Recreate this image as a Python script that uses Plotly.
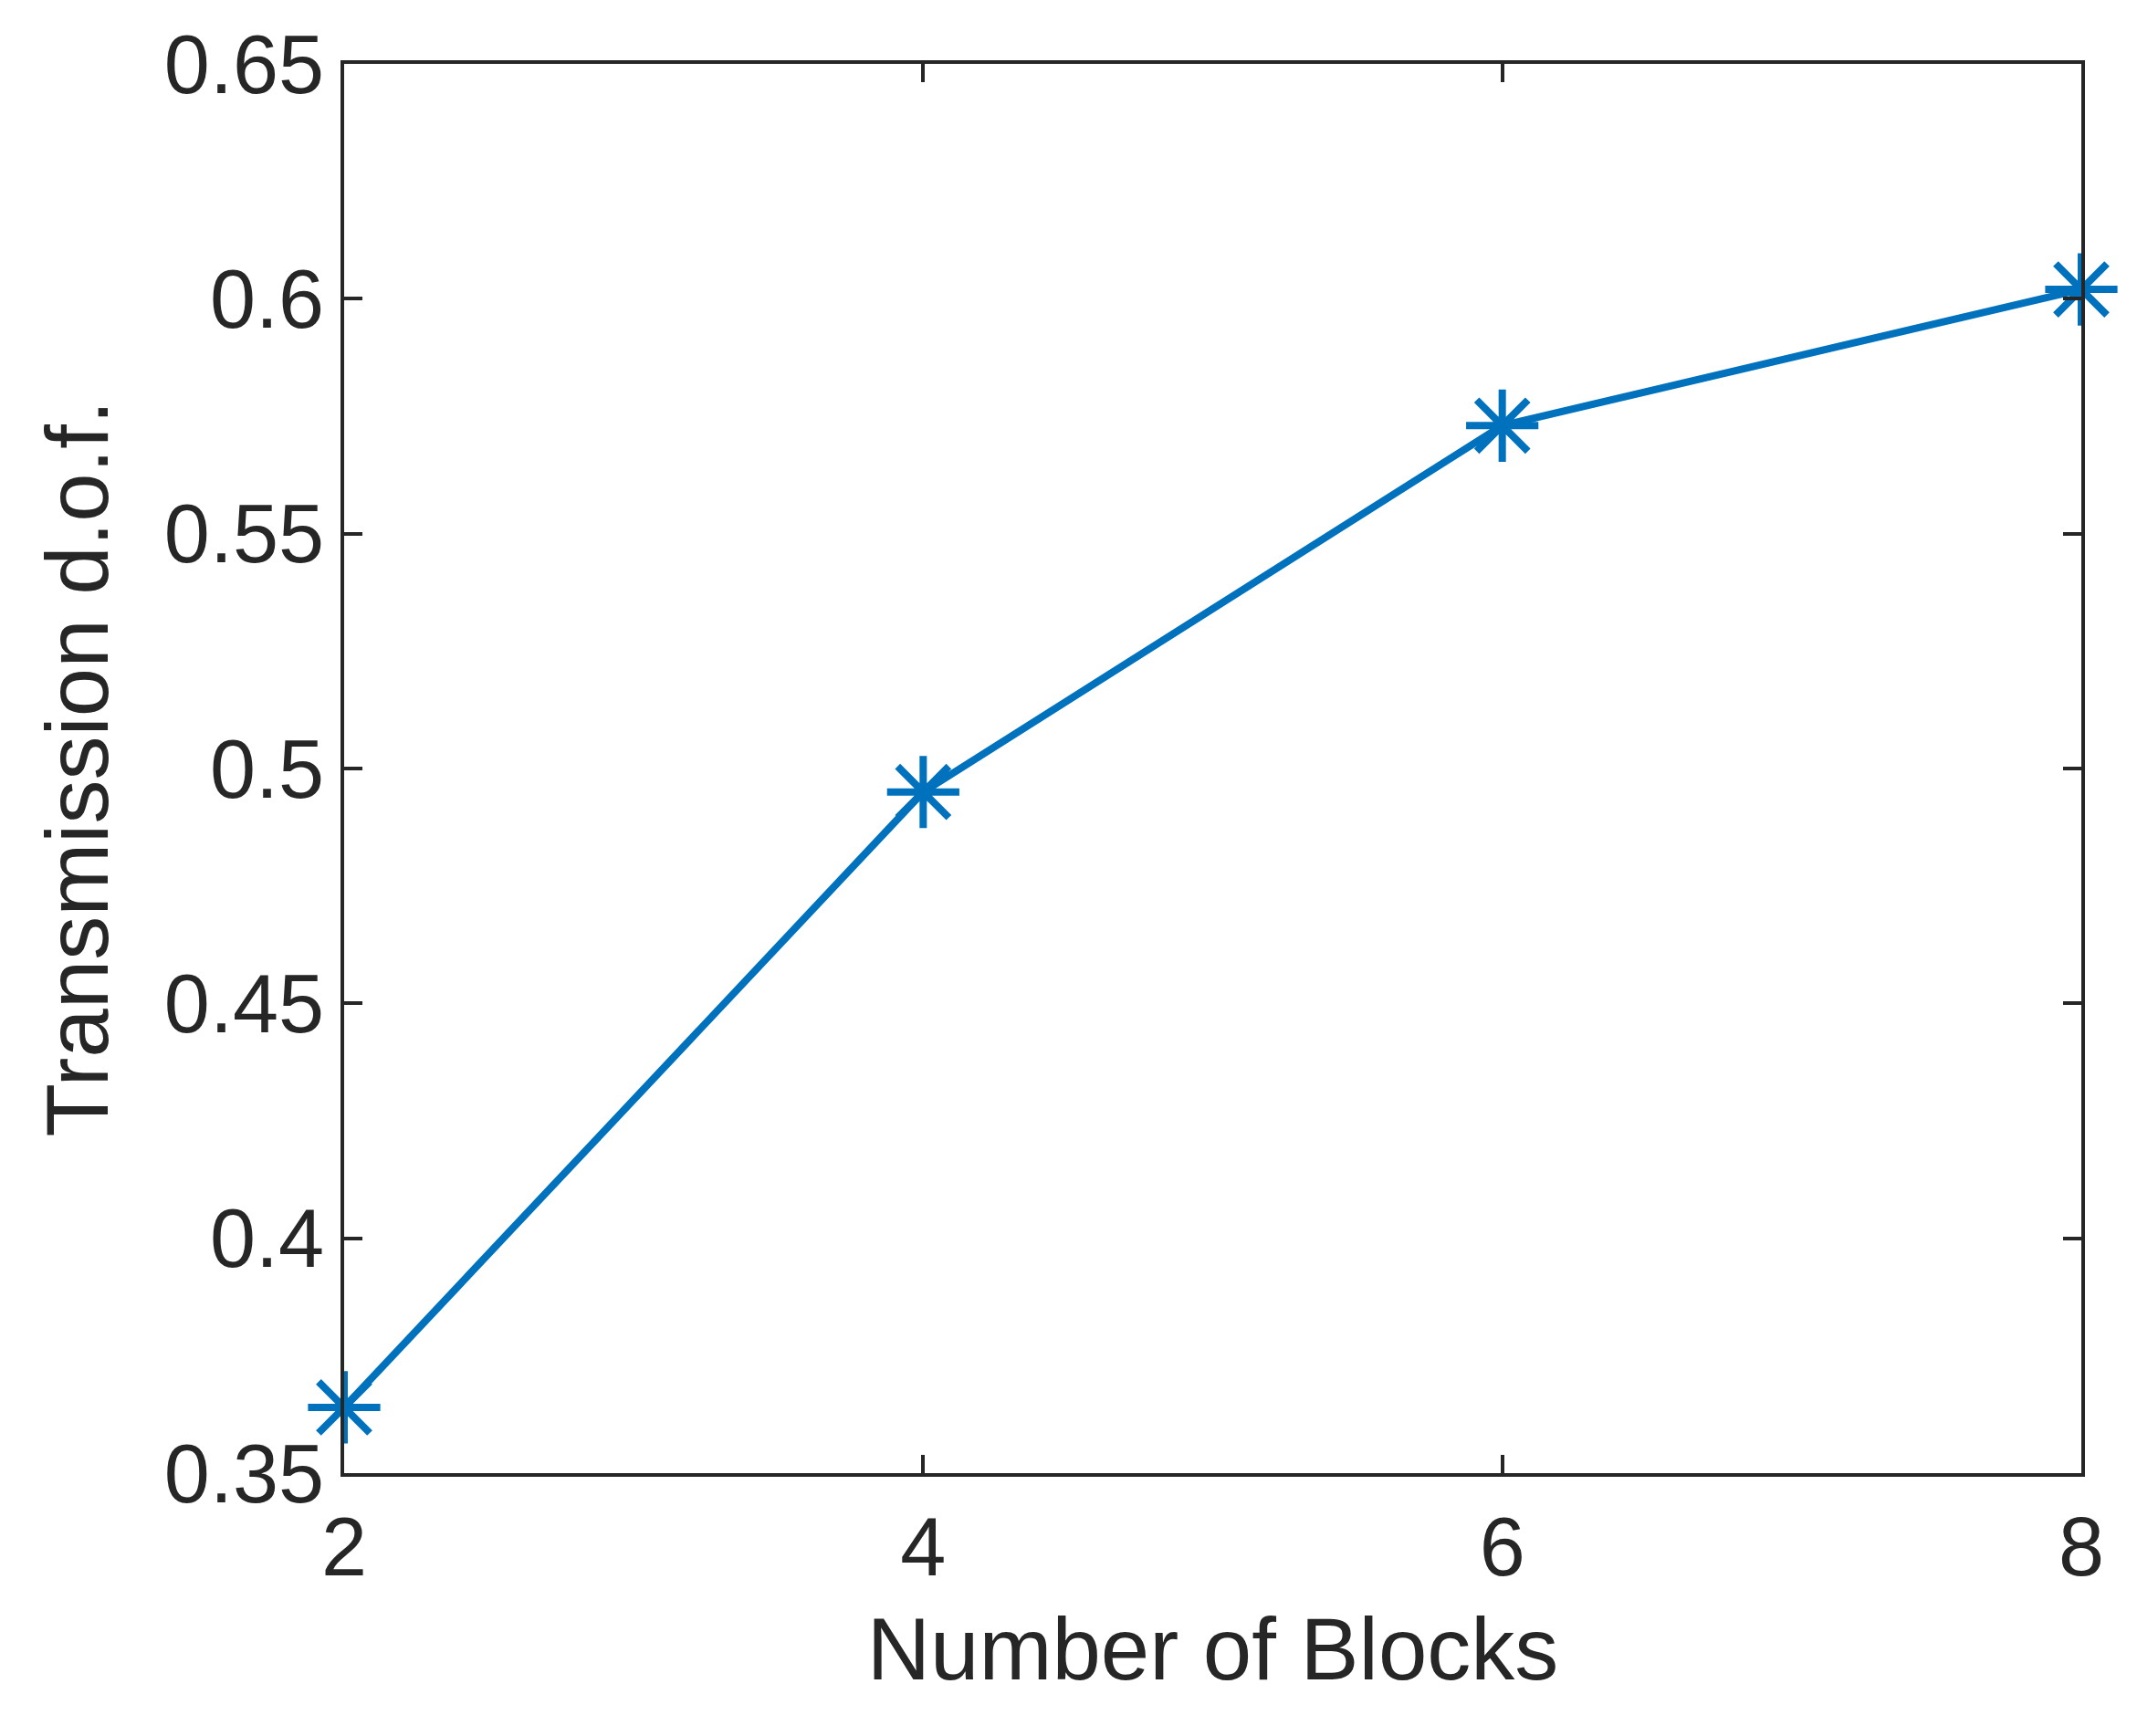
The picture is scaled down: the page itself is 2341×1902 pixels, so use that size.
import plotly.graph_objects as go

blocks = [2, 4, 6, 8]
dof = [0.364, 0.495, 0.573, 0.602]
xticks = [2, 4, 6, 8]
yticks = [0.35, 0.4, 0.45, 0.5, 0.55, 0.6, 0.65]
ytick_text = ["0.35", "0.4", "0.45", "0.5", "0.55", "0.6", "0.65"]

color = "#0072BD"
fig = go.Figure(go.Scatter(
    x=blocks, y=dof, mode="lines+markers",
    line=dict(color=color, width=8),
    marker=dict(symbol="asterisk-open", size=66, color=color, line=dict(width=8, color=color)),
    cliponaxis=False,
))
font = dict(family="Liberation Sans, Arial", size=90, color="#262626")
ax = dict(showline=True, linecolor="#262626", linewidth=4, mirror="ticks", ticks="inside",
          ticklen=20, tickwidth=4, tickcolor="#262626", showgrid=False, zeroline=False,
          tickfont=font)
fig.update_layout(
    width=2341, height=1902, plot_bgcolor="white", paper_bgcolor="white",
    margin=dict(l=369, r=69, t=52, b=296), showlegend=False,
    xaxis=dict(ax, range=[2, 8], tickvals=xticks, ticktext=[str(v) for v in xticks],
               title=dict(text="Number of Blocks", font=dict(font, size=96), standoff=30)),
    yaxis=dict(ax, range=[0.35, 0.65], tickvals=yticks, ticktext=ytick_text,
               title=dict(text="Transmission d.o.f.", font=dict(font, size=96), standoff=30)),
)
fig.write_html("out.html")
